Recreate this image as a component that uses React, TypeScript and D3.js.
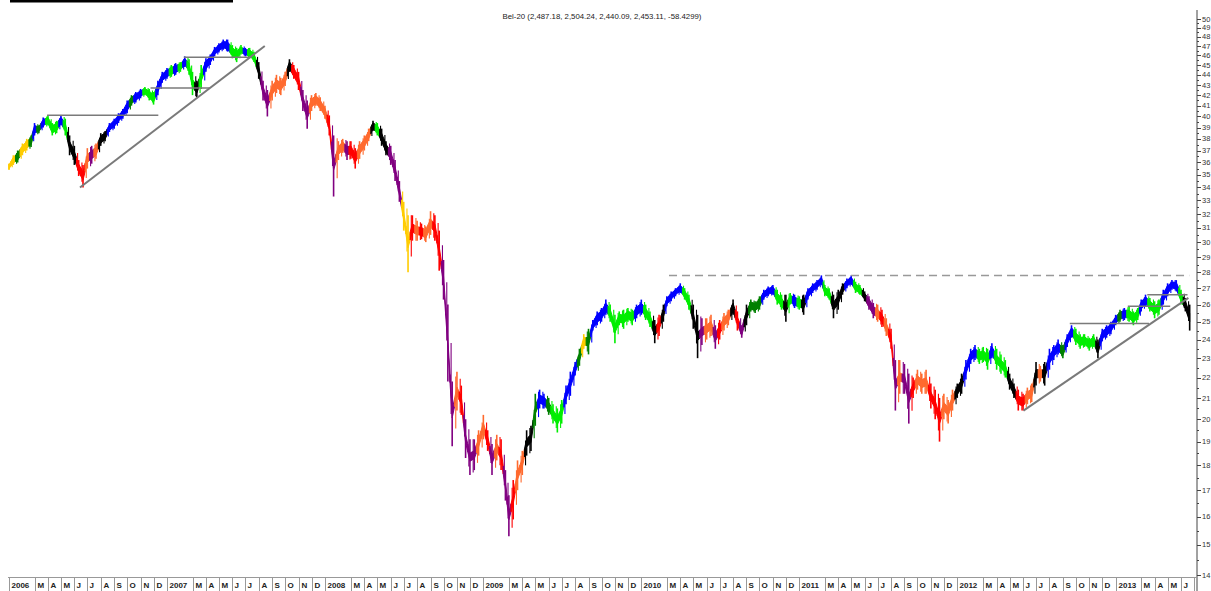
import React, { useEffect, useRef } from "react";
import * as d3 from "d3";

const W = 1211;
const H = 591;

// Bel-20, values in hundreds of index points; three readings per month (1st, 11th, 21st)
const highs = [
  35.9, 36.6, 37.0, 37.6, 38.0, 38.3, 39.4, 39.2, 39.9, 40.1, 39.4, 39.6, 40.1, 39.8, 38.3, 37.4, 36.2, 35.8, 37.2, 37.4, 37.6, 38.5, 38.7, 39.4, 39.8, 40.3, 40.7, 41.5, 42.0, 42.3, 42.6, 42.8, 42.6, 42.3, 43.4, 44.3,
  44.7, 45.0, 45.2, 45.3, 45.9, 45.6, 44.3, 43.4, 45.0, 45.7, 46.1, 46.9, 47.3, 47.7, 47.7, 47.1, 46.8, 47.1, 46.8, 46.8, 46.4, 45.3, 43.4, 42.5, 43.4, 44.0, 43.7, 44.3, 45.6, 45.0, 44.3, 42.5, 41.5, 42.0, 42.2, 41.8,
  41.0, 40.1, 38.3, 37.8, 38.0, 37.8, 37.8, 37.2, 37.8, 38.3, 38.9, 39.6, 39.4, 38.9, 37.8, 37.4, 36.2, 34.5, 32.9, 31.9, 31.9, 31.5, 31.3, 31.1, 32.2, 31.9, 30.8, 28.8, 26.0, 21.8, 22.3, 21.6, 20.0, 19.1, 19.1, 19.5,
  20.2, 19.5, 18.9, 19.3, 19.1, 17.8, 16.8, 17.4, 18.2, 18.6, 19.5, 19.7, 21.2, 21.4, 21.2, 21.0, 20.7, 20.5, 20.9, 21.6, 22.3, 22.8, 23.5, 24.3, 24.6, 25.1, 25.6, 25.8, 26.3, 26.0, 25.4, 25.6, 25.7, 25.8, 25.7, 26.0,
  26.3, 26.0, 25.6, 25.1, 25.4, 26.0, 26.5, 26.8, 27.0, 27.3, 27.0, 26.6, 26.0, 25.4, 25.2, 25.2, 25.4, 24.8, 25.1, 25.5, 25.7, 26.3, 25.6, 24.8, 26.0, 26.3, 26.2, 26.5, 26.9, 27.1, 27.2, 26.9, 26.6, 26.6, 26.7, 26.6,
  26.5, 26.6, 27.0, 27.3, 27.5, 27.8, 27.2, 27.0, 26.6, 26.9, 27.3, 27.6, 27.8, 27.4, 27.2, 26.8, 26.5, 26.1, 26.0, 25.7, 25.2, 24.6, 22.9, 22.9, 22.7, 22.2, 22.0, 22.4, 22.2, 22.4, 21.7, 21.4, 21.0, 21.2, 20.9, 21.4,
  21.7, 22.2, 22.9, 23.5, 23.7, 23.5, 23.6, 23.5, 23.8, 23.5, 23.2, 22.9, 22.2, 21.7, 21.4, 21.2, 21.5, 21.7, 22.8, 22.6, 22.8, 23.5, 23.7, 24.0, 23.7, 24.3, 24.8, 24.6, 24.3, 24.3, 24.1, 24.3, 24.0, 24.6, 24.8, 25.0,
  25.4, 25.7, 25.8, 25.9, 25.6, 25.8, 26.3, 26.6, 26.4, 26.2, 26.3, 26.9, 27.3, 27.5, 27.5, 26.9, 26.4, 26.0,
];

const lows = [
  35.4, 35.8, 36.0, 36.6, 37.0, 37.3, 38.3, 38.5, 39.0, 39.2, 38.3, 38.5, 39.2, 38.3, 36.6, 35.8, 34.9, 34.0, 35.5, 35.9, 36.3, 37.4, 37.8, 38.6, 38.9, 39.4, 39.8, 40.3, 41.0, 41.3, 41.7, 42.0, 41.5, 41.1, 42.0, 43.2,
  43.6, 43.8, 44.0, 44.3, 44.8, 44.0, 42.0, 41.8, 42.6, 44.3, 45.0, 45.9, 46.3, 46.6, 46.4, 45.7, 45.3, 46.1, 45.9, 45.7, 45.3, 43.6, 41.5, 40.0, 41.5, 42.2, 42.0, 42.9, 44.3, 43.6, 42.5, 40.5, 38.9, 40.5, 41.0, 40.5,
  39.8, 38.3, 33.3, 36.2, 36.8, 36.2, 36.3, 35.5, 36.3, 37.0, 37.8, 38.7, 38.3, 37.4, 36.6, 35.8, 34.5, 32.9, 30.8, 28.0, 30.1, 30.1, 30.2, 30.0, 30.5, 30.1, 28.1, 26.3, 21.8, 18.8, 20.4, 20.2, 18.3, 17.6, 17.8, 18.4,
  19.1, 18.6, 17.6, 18.2, 17.8, 16.6, 15.3, 15.9, 17.0, 17.6, 18.4, 18.6, 19.7, 20.5, 20.5, 20.2, 19.8, 19.4, 19.8, 20.7, 21.1, 22.1, 22.6, 23.5, 23.2, 24.5, 24.8, 25.0, 25.4, 25.0, 23.8, 24.8, 24.6, 25.0, 24.8, 25.2,
  25.4, 25.1, 24.7, 23.8, 24.2, 25.0, 25.9, 26.2, 26.5, 26.7, 26.3, 25.7, 24.6, 23.0, 23.7, 24.0, 24.2, 23.5, 24.0, 24.5, 24.8, 25.4, 24.5, 24.1, 24.8, 25.6, 25.5, 25.7, 26.3, 26.5, 26.6, 26.0, 25.7, 25.0, 26.0, 25.8,
  25.7, 25.4, 26.3, 26.7, 26.9, 27.2, 26.5, 26.3, 25.2, 25.7, 26.6, 27.0, 27.2, 26.7, 26.6, 26.2, 25.7, 25.2, 25.0, 24.7, 24.2, 23.5, 20.4, 21.2, 21.2, 19.8, 21.0, 21.4, 21.2, 21.2, 20.5, 20.0, 19.0, 20.0, 19.8, 20.4,
  21.0, 21.2, 21.9, 22.7, 22.9, 22.7, 22.8, 22.4, 23.0, 22.4, 22.2, 22.0, 21.4, 21.0, 20.4, 20.4, 20.7, 20.8, 21.6, 21.8, 21.6, 22.4, 22.9, 23.2, 23.0, 23.6, 24.1, 23.7, 23.5, 23.6, 23.4, 23.6, 23.0, 23.9, 24.1, 24.3,
  24.8, 25.0, 25.1, 25.0, 24.8, 25.1, 25.6, 25.9, 25.6, 25.2, 25.4, 26.0, 26.5, 26.9, 26.8, 26.0, 25.6, 24.5,
];

// trend-indicator colour of each reading
const trend = [
  "Y", "Y", "D", "Y", "Y", "D", "B", "D", "B", "G", "G", "G", "B", "G", "K", "K", "R", "R", "O", "P", "O", "K", "K", "B", "B", "B", "B", "B", "D", "B", "B", "G", "G", "G", "B", "B",
  "B", "G", "B", "G", "B", "G", "G", "K", "G", "B", "B", "B", "B", "B", "B", "G", "G", "G", "B", "G", "G", "K", "P", "P", "O", "O", "O", "O", "K", "R", "R", "P", "P", "O", "O", "O",
  "O", "R", "P", "O", "O", "P", "R", "R", "O", "O", "O", "K", "G", "K", "K", "P", "P", "P", "Y", "Y", "R", "O", "R", "O", "O", "R", "R", "P", "P", "P", "O", "R", "P", "P", "P", "O",
  "O", "R", "P", "O", "R", "P", "P", "R", "O", "O", "K", "K", "D", "B", "B", "D", "G", "G", "G", "B", "B", "B", "D", "Y", "D", "B", "B", "B", "B", "G", "G", "G", "G", "G", "G", "B",
  "B", "G", "G", "K", "R", "K", "B", "B", "B", "B", "G", "G", "K", "K", "P", "O", "O", "P", "R", "O", "O", "K", "R", "P", "K", "D", "D", "D", "B", "B", "B", "G", "G", "K", "G", "B",
  "G", "K", "B", "B", "B", "B", "G", "G", "K", "K", "K", "B", "B", "G", "G", "K", "P", "P", "O", "R", "O", "R", "P", "O", "P", "P", "R", "O", "O", "O", "R", "R", "R", "O", "O", "O",
  "K", "K", "B", "B", "B", "G", "G", "G", "B", "G", "G", "G", "K", "K", "R", "R", "O", "O", "K", "O", "K", "B", "B", "B", "D", "B", "B", "G", "G", "G", "G", "G", "K", "B", "B", "B",
  "B", "D", "B", "G", "G", "G", "B", "B", "G", "G", "G", "B", "B", "B", "B", "G", "K", "K",
];

const trendColors = {
  Y: "#FFCC00",
  G: "#00EE00",
  D: "#008000",
  B: "#0000FF",
  K: "#000000",
  R: "#FF0000",
  O: "#FF6A2E",
  P: "#800080",
};

const monthLetters = ["", "", "M", "A", "M", "J", "J", "A", "S", "O", "N", "D"];

const yTicks = d3.range(14, 51);

// support / resistance lines: [start, startValue, end, endValue]
const trendLines = [
  ["2006-06-14", 34.0, "2007-08-15", 47.0],
  ["2012-06-02", 20.4, "2013-06-18", 26.4],
];
const levelLines = [
  ["2006-03-30", "2006-12-12", 40.1],
  ["2006-11-24", "2007-04-10", 42.7],
  ["2007-02-09", "2007-07-16", 45.8],
  ["2012-09-17", "2013-03-19", 24.9],
  ["2013-01-29", "2013-05-07", 25.9],
  ["2013-03-15", "2013-06-16", 26.6],
];
const dashedLevel = ["2010-03-06", "2013-06-20", 27.8];

const title = "Bel-20 (2,487.18, 2,504.24, 2,440.09, 2,453.11, -58.4299)";

const font = "Arial, 'Liberation Sans', sans-serif";

const App = () => {
  const ref = useRef(null);

  useEffect(() => {
    const svg = d3.select(ref.current);
    svg.selectAll("*").remove();

    const parse = d3.timeParse("%Y-%m-%d");
    const start = new Date(2006, 0, 1);
    const end = new Date(2013, 6, 1);
    const x = d3.scaleTime().domain([start, end]).range([9, 1194]);
    const y = d3.scaleLog().domain([14, 50]).range([575, 19]);
    const axisX = 1197;

    svg.append("rect").attr("width", W).attr("height", H).attr("fill", "#fff");

    // top-left bar
    svg.append("rect").attr("x", 10).attr("y", 0).attr("width", 223).attr("height", 2.5).attr("fill", "#000");

    svg
      .append("text")
      .attr("x", 602)
      .attr("y", 19)
      .attr("text-anchor", "middle")
      .attr("font-family", font)
      .attr("font-size", 7.8)
      .attr("fill", "#222")
      .text(title);

    // data points
    const pts = highs.map((h, i) => ({
      date: new Date(2006, Math.floor(i / 3), 1 + 10 * (i % 3)),
      hi: h,
      lo: lows[i],
      c: trendColors[trend[i]],
    }));
    const px = pts.map((p) => x(p.date));
    // thinner core around the middle of each range, full range drawn as wicks
    const core = pts.map((p) => {
      const yh = y(p.hi);
      const yl = y(p.lo);
      const ym = (yh + yl) / 2;
      const half = Math.max(1.6, Math.min(4, (yl - yh) * 0.3));
      return [ym - half, ym + half];
    });

    const g = svg.append("g");
    pts.forEach((p, i) => {
      const prev = i > 0 ? i - 1 : i;
      const next = i < pts.length - 1 ? i + 1 : i;
      const xl = (px[prev] + px[i]) / 2;
      const xr = (px[next] + px[i]) / 2;
      const poly = [
        [xl, (core[prev][0] + core[i][0]) / 2],
        [px[i], core[i][0]],
        [xr, (core[next][0] + core[i][0]) / 2],
        [xr, (core[next][1] + core[i][1]) / 2],
        [px[i], core[i][1]],
        [xl, (core[prev][1] + core[i][1]) / 2],
      ];
      g.append("path")
        .attr("d", "M" + poly.map((q) => q.join(",")).join("L") + "Z")
        .attr("fill", p.c)
        .attr("stroke", p.c)
        .attr("stroke-width", 1)
        .attr("stroke-linejoin", "round");
      g.append("line")
        .attr("x1", px[i])
        .attr("x2", px[i])
        .attr("y1", y(p.hi))
        .attr("y2", y(p.lo))
        .attr("stroke", p.c)
        .attr("stroke-width", 1.6);
      g.append("line")
        .attr("x1", (xl + px[i]) / 2)
        .attr("x2", (xl + px[i]) / 2)
        .attr("y1", (y(p.hi) + y(pts[prev].hi)) / 2)
        .attr("y2", (y(p.lo) + y(pts[prev].lo)) / 2)
        .attr("stroke", p.c)
        .attr("stroke-width", 1.1);
    });

    // lines
    const lines = svg.append("g").attr("fill", "none");
    trendLines.forEach(([d0, v0, d1, v1]) => {
      lines
        .append("line")
        .attr("x1", x(parse(d0)))
        .attr("y1", y(v0))
        .attr("x2", x(parse(d1)))
        .attr("y2", y(v1))
        .attr("stroke", "#7a7a7a")
        .attr("stroke-width", 2);
    });
    levelLines.forEach(([d0, d1, v]) => {
      lines
        .append("line")
        .attr("x1", x(parse(d0)))
        .attr("x2", x(parse(d1)))
        .attr("y1", y(v))
        .attr("y2", y(v))
        .attr("stroke", "#7a7a7a")
        .attr("stroke-width", 1.5);
    });
    lines
      .append("line")
      .attr("x1", x(parse(dashedLevel[0])))
      .attr("x2", x(parse(dashedLevel[1])))
      .attr("y1", y(dashedLevel[2]))
      .attr("y2", y(dashedLevel[2]))
      .attr("stroke", "#999")
      .attr("stroke-width", 1.5)
      .attr("stroke-dasharray", "8,5");

    // y axis
    const ax = svg.append("g");
    ax.append("line")
      .attr("x1", axisX)
      .attr("x2", axisX)
      .attr("y1", 10)
      .attr("y2", 591)
      .attr("stroke", "#444");
    yTicks.forEach((t) => {
      ax.append("line")
        .attr("x1", axisX)
        .attr("x2", axisX + 4)
        .attr("y1", Math.round(y(t)) + 0.5)
        .attr("y2", Math.round(y(t)) + 0.5)
        .attr("stroke", "#444");
      if (t < 50) {
        ax.append("line")
          .attr("x1", axisX)
          .attr("x2", axisX + 2)
          .attr("y1", Math.round(y(t + 0.5)) + 0.5)
          .attr("y2", Math.round(y(t + 0.5)) + 0.5)
          .attr("stroke", "#444");
      }
      ax.append("text")
        .attr("x", axisX + 5)
        .attr("y", y(t))
        .attr("dy", "0.35em")
        .attr("font-family", font)
        .attr("font-size", 7.5)
        .attr("fill", "#333")
        .text(t);
    });

    // month band
    const band = svg.append("g");
    const months = d3.timeMonth.range(start, new Date(2013, 7, 1));
    band.append("line")
      .attr("x1", 8)
      .attr("x2", axisX)
      .attr("y1", 577.5)
      .attr("y2", 577.5)
      .attr("stroke", "#999");
    months.forEach((m) => {
      const x0 = Math.round(x(m)) + 0.5;
      if (x0 >= axisX) return;
      if (m.getMonth() !== 1) {
        band.append("line")
          .attr("x1", x0)
          .attr("x2", x0)
          .attr("y1", 577.5)
          .attr("y2", 591)
          .attr("stroke", "#999");
      }
      const label = m.getMonth() === 0 ? String(m.getFullYear()) : monthLetters[m.getMonth()];
      if (label && x0 + 4 < axisX) {
        band.append("text")
          .attr("x", x0 + 2)
          .attr("y", 588)
          .attr("font-family", font)
          .attr("font-size", 8)
          .attr("font-weight", "bold")
          .attr("fill", "#222")
          .text(label);
      }
    });
  }, []);

  return (
    <svg
      ref={ref}
      width={W}
      height={H}
      style={{ position: "absolute", left: 0, top: 0, display: "block" }}
    />
  );
};

export default App;
